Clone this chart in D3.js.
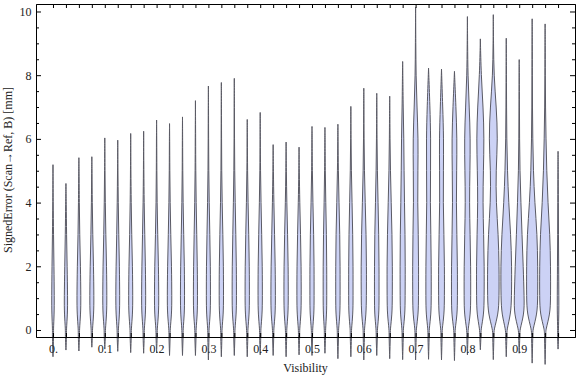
<!DOCTYPE html>
<html>
<head>
<meta charset="utf-8">
<script src="https://cdn.jsdelivr.net/npm/d3@7"></script>
<style>
  body { margin: 0; background: #fff; }
  svg { display: block; }
  text { font-family: "Liberation Serif", "Times New Roman", serif; }
</style>
</head>
<body>
<div class="violin-chart"></div>
<script>
// one violin per visibility bin
const visibility = [0, 0.025, 0.05, 0.075, 0.1, 0.125, 0.15, 0.175, 0.2, 0.225,
  0.25, 0.275, 0.3, 0.325, 0.35, 0.375, 0.4, 0.425, 0.45, 0.475,
  0.5, 0.525, 0.55, 0.575, 0.6, 0.625, 0.65, 0.675, 0.7, 0.725,
  0.75, 0.775, 0.8, 0.825, 0.85, 0.875, 0.9, 0.925, 0.95, 0.975]

const minError = [-0.84, -0.63, -0.66, -0.54, -0.6, -0.67, -0.71, -0.73, -0.71, -0.8,
  -0.8, -0.8, -0.94, -0.84, -0.8, -0.84, -0.78, -0.8, -0.84, -0.78,
  -0.8, -0.73, -0.9, -0.84, -0.94, -0.8, -0.9, -0.93, -0.94, -0.92,
  -0.94, -0.96, -0.78, -0.62, -0.93, -0.84, -0.73, -1.04, -1.08, -0.6]

const maxError = [5.19, 4.6, 5.41, 5.44, 6.03, 5.96, 6.17, 6.24, 6.59, 6.48,
  6.69, 7.2, 7.66, 7.77, 7.9, 6.61, 6.83, 5.82, 5.9, 5.74,
  6.39, 6.36, 6.46, 7.02, 7.59, 7.43, 7.34, 8.43, 10.13, 8.22,
  8.19, 8.12, 9.84, 9.14, 9.9, 9.16, 8.49, 9.77, 9.61, 5.61]

// density (relative) at these error levels, one row per violin
const densityLevels = [0, 0.5, 1, 2, 3, 4, 5, 6, 7, 8, 9]
const density = [
  [0.4, 1.2, 1.3, 1.0, 0.5, 0.25, 0.15],
  [0.4, 1.6, 1.7, 1.2, 0.6, 0.3, 0.15],
  [0.5, 1.8, 2.0, 1.6, 0.8, 0.4, 0.2],
  [0.5, 1.9, 2.1, 1.7, 0.9, 0.4, 0.2],
  [0.5, 1.9, 2.1, 1.8, 1.0, 0.5, 0.2, 0.15],
  [0.5, 1.8, 2.0, 1.7, 1.0, 0.5, 0.2, 0.15],
  [0.5, 1.9, 2.1, 1.8, 1.0, 0.5, 0.2, 0.15],
  [0.5, 1.9, 2.1, 1.8, 1.1, 0.5, 0.2, 0.15],
  [0.5, 2.0, 2.2, 1.9, 1.1, 0.5, 0.25, 0.15],
  [0.5, 2.1, 2.3, 2.0, 1.2, 0.6, 0.25, 0.15],
  [0.5, 1.9, 2.1, 1.9, 1.2, 0.6, 0.25, 0.15],
  [0.5, 1.9, 2.1, 1.9, 1.3, 0.7, 0.3, 0.2, 0.15],
  [0.5, 1.9, 2.1, 2.0, 1.4, 0.8, 0.35, 0.2, 0.15],
  [0.5, 2.0, 2.2, 2.1, 1.5, 0.8, 0.35, 0.2, 0.15],
  [0.5, 2.0, 2.2, 2.1, 1.5, 0.9, 0.4, 0.2, 0.15],
  [0.5, 2.0, 2.2, 2.1, 1.5, 0.8, 0.3, 0.15],
  [0.5, 2.0, 2.2, 2.1, 1.5, 0.8, 0.3, 0.15],
  [0.5, 2.1, 2.3, 2.1, 1.4, 0.7, 0.25, 0.15],
  [0.5, 2.0, 2.2, 2.1, 1.5, 0.7, 0.25, 0.15],
  [0.5, 2.0, 2.2, 2.1, 1.5, 0.7, 0.25, 0.15],
  [0.5, 2.0, 2.1, 2.1, 1.7, 0.9, 0.3, 0.15],
  [0.5, 1.7, 1.8, 1.8, 1.5, 0.8, 0.3, 0.15],
  [0.5, 2.1, 2.2, 2.2, 1.9, 1.1, 0.4, 0.15],
  [0.5, 2.1, 2.2, 2.2, 1.9, 1.2, 0.5, 0.2, 0.15],
  [0.5, 2.3, 2.6, 2.7, 2.3, 1.4, 0.6, 0.25, 0.15],
  [0.5, 2.2, 2.3, 2.3, 2.0, 1.3, 0.6, 0.25, 0.15],
  [0.5, 2.4, 2.6, 2.7, 2.3, 1.5, 0.7, 0.3, 0.15],
  [0.5, 2.3, 2.5, 2.6, 2.4, 1.8, 1.4, 1.2, 0.5, 0.2],
  [0.5, 2.7, 2.9, 3.0, 2.7, 2.0, 2.3, 2.6, 1.4, 0.4, 0.2],
  [0.5, 2.5, 2.7, 2.7, 2.3, 1.7, 2.0, 2.2, 1.4, 0.3],
  [0.5, 2.7, 2.9, 3.0, 2.4, 1.7, 1.9, 2.2, 1.2, 0.3],
  [0.5, 2.8, 3.0, 3.0, 2.4, 1.8, 2.2, 2.6, 1.5, 0.3],
  [0.5, 3.1, 3.3, 3.3, 2.7, 2.0, 2.5, 3.0, 1.8, 0.5, 0.2],
  [0.5, 3.5, 3.8, 3.9, 3.3, 2.5, 3.0, 3.8, 2.8, 0.8, 0.2],
  [0.5, 5.0, 5.8, 5.8, 5.0, 2.8, 2.6, 4.5, 3.0, 0.6, 0.2],
  [0.5, 4.5, 5.3, 5.5, 4.5, 2.4, 1.2, 0.5, 0.3, 0.2],
  [0.5, 5.0, 5.0, 4.0, 2.8, 1.7, 0.7, 0.35, 0.25],
  [0.5, 5.0, 5.6, 5.6, 5.0, 2.6, 1.2, 0.6, 0.3, 0.2],
  [0.5, 5.0, 5.5, 5.5, 4.8, 2.8, 1.6, 0.9, 0.4, 0.2],
  [0.3, 0.8, 0.8, 0.6, 0.4, 0.3, 0.2, 0.15]
]

// tick labels
const xLabelValues = [0, 0.1, 0.2, 0.3, 0.4, 0.5, 0.6, 0.7, 0.8, 0.9]
const xLabels = ['0.', '0.1', '0.2', '0.3', '0.4', '0.5', '0.6', '0.7', '0.8', '0.9']
const yMajorTicks = [0, 2, 4, 6, 8, 10]
const yMinorTicks = [0.5, 1, 1.5, 2.5, 3, 3.5, 4.5, 5, 5.5, 6.5, 7, 7.5, 8.5, 9, 9.5]

const width = 576
const height = 377
const frame = { left: 36, right: 575, top: 4, bottom: 337 }

const svg = d3.select('.violin-chart')
  .append('svg')
  .attr('width', width)
  .attr('height', height)

const x = d3.scaleLinear()
  .domain([-0.0328, 1.0077])
  .range([frame.left, frame.right])

const y = d3.scaleLinear()
  .domain([-0.22, 10.235])
  .range([frame.bottom, frame.top])

// half width of a violin in px per density unit
const w = d3.scaleLinear().domain([0, 1]).range([0, 1])

// build the outline points of each violin
const violins = visibility.map((vis, i) => {
  const row = density[i]
  const pts = [{ v: minError[i], d: 0 }, { v: -0.15, d: 0.7 }, { v: 0, d: row[0] }]
  densityLevels.forEach((lv, j) => {
    if (j === 0 || lv > maxError[i] - 0.3) return
    pts.push({ v: lv, d: row[j] !== undefined ? row[j] : 0.15 })
  })
  pts.push({ v: maxError[i], d: 0 })
  return { vis, pts }
})

const violinGroup = svg.append('g').attr('class', 'violins')

violinGroup.selectAll('path')
  .data(violins)
  .join('path')
  .attr('d', d => d3.area()
    .curve(d3.curveBasis)
    .y(p => y(p.v))
    .x0(p => x(d.vis) - w(p.d))
    .x1(p => x(d.vis) + w(p.d))(d.pts))
  .attr('fill', '#ccd2f5')
  .attr('stroke', '#5a5a64')
  .attr('stroke-width', 1)

// frame axes, ticks point inward
const xAxis = d3.axisBottom(x)
  .tickValues(visibility)
  .tickSizeInner(-4)
  .tickSizeOuter(0)
  .tickPadding(7.5)
  .tickFormat(d => {
    const k = xLabelValues.indexOf(d)
    return k >= 0 ? xLabels[k] : ''
  })

svg.append('g')
  .attr('transform', `translate(0,${frame.bottom})`)
  .call(xAxis)

svg.append('g')
  .attr('transform', `translate(0,${frame.top})`)
  .call(d3.axisTop(x).tickValues(visibility).tickSizeInner(-4).tickSizeOuter(0).tickFormat(''))

svg.append('g')
  .attr('transform', `translate(${frame.left},0)`)
  .call(d3.axisLeft(y).tickValues(yMajorTicks).tickSizeInner(-5).tickSizeOuter(0).tickPadding(4.5))

svg.append('g')
  .attr('transform', `translate(${frame.left},0)`)
  .call(d3.axisLeft(y).tickValues(yMinorTicks).tickSizeInner(-3).tickSizeOuter(0).tickFormat(''))

svg.append('g')
  .attr('transform', `translate(${frame.right},0)`)
  .call(d3.axisRight(y).tickValues(yMajorTicks).tickSizeInner(-5).tickSizeOuter(0).tickFormat(''))

svg.append('g')
  .attr('transform', `translate(${frame.right},0)`)
  .call(d3.axisRight(y).tickValues(yMinorTicks).tickSizeInner(-3).tickSizeOuter(0).tickFormat(''))

svg.selectAll('.tick text')
  .attr('font-family', '"Liberation Serif", "Times New Roman", serif')
  .attr('font-size', 12)
  .attr('fill', '#222')

// axis labels
svg.append('text')
  .text('Visibility')
  .attr('x', (frame.left + frame.right) / 2)
  .attr('y', 372)
  .attr('text-anchor', 'middle')
  .attr('font-size', 12)
  .attr('fill', '#222')

svg.append('text')
  .text('SignedError (Scan\u2192Ref, B) [mm]')
  .attr('transform', 'translate(12,170) rotate(-90)')
  .attr('text-anchor', 'middle')
  .attr('font-size', 12)
  .attr('fill', '#222')
</script>
</body>
</html>
